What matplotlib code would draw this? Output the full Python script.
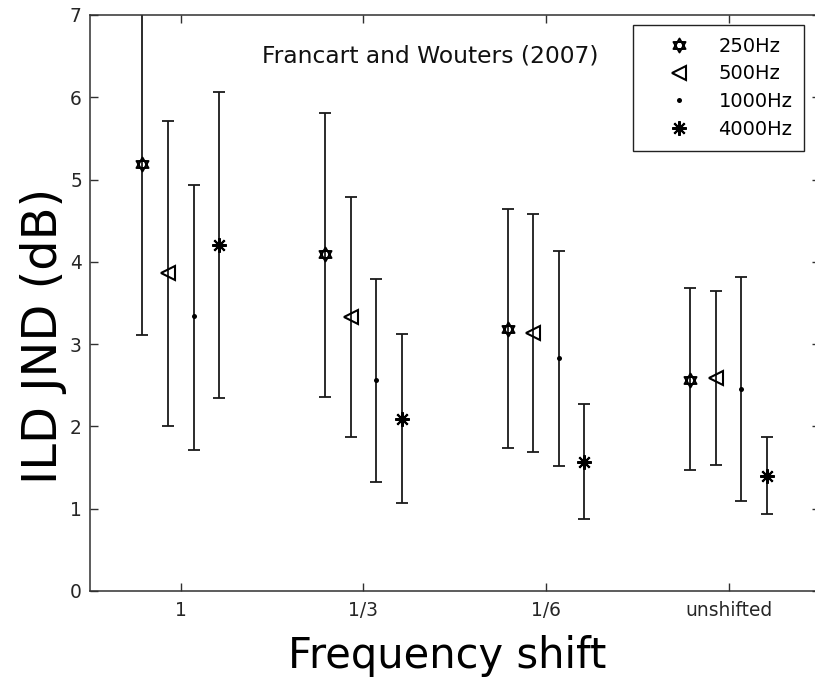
import numpy as np
import matplotlib
matplotlib.use("Agg")
import matplotlib.pyplot as plt
from matplotlib.path import Path

# ---- data ----
groups = ["1", "1/3", "1/6", "unshifted"]
freq_labels = ["250Hz", "500Hz", "1000Hz", "4000Hz"]

means_250 = [5.19, 4.09, 3.19, 2.57]
upper_250 = [7.27, 5.81, 4.64, 3.68]
lower_250 = [3.11, 2.36, 1.74, 1.47]

means_500 = [3.86, 3.33, 3.14, 2.59]
upper_500 = [5.71, 4.79, 4.58, 3.64]
lower_500 = [2.01, 1.87, 1.69, 1.53]

means_1000 = [3.34, 2.57, 2.83, 2.46]
upper_1000 = [4.94, 3.79, 4.13, 3.82]
lower_1000 = [1.71, 1.33, 1.52, 1.09]

means_4000 = [4.20, 2.09, 1.57, 1.40]
upper_4000 = [6.06, 3.12, 2.27, 1.87]
lower_4000 = [2.34, 1.07, 0.87, 0.93]

offsets = [-0.21, -0.07, 0.07, 0.21]

# ---- hexagram marker (two overlapping triangles) ----
def tri(angles):
    return [(np.cos(np.radians(a)), np.sin(np.radians(a))) for a in angles]

hex_verts = tri([90, 210, 330]) + [(0, 0)] + tri([270, 30, 150]) + [(0, 0)]
hex_codes = [Path.MOVETO, Path.LINETO, Path.LINETO, Path.CLOSEPOLY] * 2
hexagram = Path(hex_verts, hex_codes)

series = [
    (means_250, upper_250, lower_250, dict(marker=hexagram, ms=10, mfc="none", mew=1.4)),
    (means_500, upper_500, lower_500, dict(marker="<", ms=10.5, mfc="none", mew=1.5)),
    (means_1000, upper_1000, lower_1000, dict(marker="o", ms=3.6, mfc="black", mew=0)),
    (means_4000, upper_4000, lower_4000, dict(marker=(8, 2, 0), ms=10.5, mew=1.5)),
]

fig = plt.figure(figsize=(8.15, 6.79), dpi=100)
W, H = 815, 679
ax_l, ax_r, ax_t, ax_b = 89.5, 820, 15, 591
ax = fig.add_axes([ax_l / W, 1 - ax_b / H, (ax_r - ax_l) / W, (ax_b - ax_t) / H])

line_col = "#1a1a1a"
x_base = np.arange(1, len(groups) + 1)
for (m, up, lo, style), off, lab in zip(series, offsets, freq_labels):
    m = np.array(m); up = np.array(up); lo = np.array(lo)
    xs = x_base + off
    ax.errorbar(xs, m, yerr=[m - lo, up - m], fmt="none", ecolor=line_col,
                elinewidth=1.3, capsize=4.4, capthick=1.3)
    ax.plot(xs, m, linestyle="none", color="black", mec="black", label=lab, **style)

ax.set_xlim(0.5, 4.5)
ax.set_ylim(0, 7)
ax.set_xticks(x_base)
ax.set_xticklabels(groups)
ax.set_yticks(range(0, 8))

spine_col = "#303030"
for s in ax.spines.values():
    s.set_color(spine_col)
    s.set_linewidth(1.1)
ax.spines["right"].set_visible(False)
ax.tick_params(axis="both", direction="in", length=5.5, width=1, color=spine_col,
               top=True, right=True, labelsize=13.4, labelcolor="#262626")
ax.tick_params(axis="x", pad=7.5)
ax.tick_params(axis="y", pad=5.5)

ax.set_ylabel("ILD JND (dB)", fontsize=34.5, va="center")
ax.yaxis.set_label_coords((43.8 - ax_l) / (ax_r - ax_l), (ax_b - 336) / (ax_b - ax_t))
ax.set_xlabel("Frequency shift", fontsize=30, va="baseline")
ax.xaxis.set_label_coords((447 - ax_l) / (ax_r - ax_l), (ax_b - 668) / (ax_b - ax_t))

ax.text((430 - ax_l) / (ax_r - ax_l), (ax_b - 56) / (ax_b - ax_t),
        "Francart and Wouters (2007)", transform=ax.transAxes,
        fontsize=16.8, ha="center", va="center", color="#111111")

leg = ax.legend(loc="upper left", bbox_to_anchor=(633 / W, 1 - 25 / H),
                bbox_transform=fig.transFigure, borderaxespad=0,
                fontsize=14.0, frameon=True, fancybox=False, framealpha=1,
                edgecolor="#222222", borderpad=0.6, handlelength=3.5,
                handletextpad=0.3, labelspacing=0.45)
leg.get_frame().set_linewidth(1.0)

fig.savefig("out.png", dpi=100, facecolor="white")
